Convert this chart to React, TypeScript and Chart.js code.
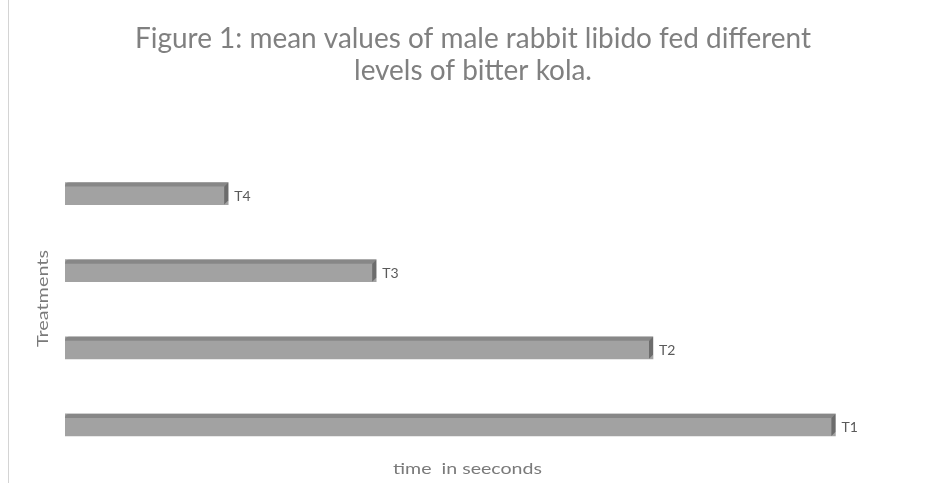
import React, { useEffect, useRef } from "react";
import { Chart, registerables } from "chart.js";

Chart.register(...registerables);

const categories = ["T1", "T2", "T3", "T4"];
const values = [96.3, 73.5, 38.9, 20.4];
const titleLines = [
  "Figure 1: mean values of male rabbit libido fed different",
  "levels of bitter kola.",
];
const xTitle = "time  in seeconds";
const yTitle = "Treatments";

const FONT = "Lato, 'Open Sans', sans-serif";

function drawFitted(
  ctx: CanvasRenderingContext2D,
  text: string,
  cx: number,
  cy: number,
  size: number,
  sx: number,
  color: string
) {
  ctx.save();
  ctx.font = `${size}px ${FONT}`;
  ctx.fillStyle = color;
  ctx.textAlign = "center";
  ctx.textBaseline = "alphabetic";
  ctx.translate(cx, cy);
  ctx.scale(sx, 1);
  ctx.fillText(text, 0, 0);
  ctx.restore();
}

const decorPlugin = {
  id: "decor",
  afterDatasetsDraw(chart: any) {
    const ctx: CanvasRenderingContext2D = chart.ctx;
    const meta = chart.getDatasetMeta(0);
    const d = 4;
    meta.data.forEach((el: any, i: number) => {
      const { x, y, base, height } = el.getProps(["x", "y", "base", "height"], true);
      const top = y - height / 2;
      const bottom = y + height / 2;
      ctx.save();
      // top face
      ctx.fillStyle = "#878787";
      ctx.beginPath();
      ctx.moveTo(base, top + d);
      ctx.quadraticCurveTo(base, top, base + d, top);
      ctx.lineTo(x, top);
      ctx.lineTo(x - d, top + d);
      ctx.closePath();
      ctx.fill();
      // right face
      ctx.fillStyle = "#6c6c6c";
      ctx.beginPath();
      ctx.moveTo(x - d, top + d);
      ctx.lineTo(x, top);
      ctx.lineTo(x, bottom - d);
      ctx.lineTo(x - d, bottom);
      ctx.closePath();
      ctx.fill();
      // label
      ctx.font = `14px ${FONT}`;
      ctx.fillStyle = "#5a5a5a";
      ctx.textAlign = "left";
      ctx.textBaseline = "middle";
      ctx.fillText(categories[i], x + 6, y + 3);
      ctx.restore();
    });
  },
  afterDraw(chart: any) {
    const ctx: CanvasRenderingContext2D = chart.ctx;
    ctx.save();
    // left border line
    ctx.strokeStyle = "#d4d4d4";
    ctx.lineWidth = 1;
    ctx.beginPath();
    ctx.moveTo(8.5, 0);
    ctx.lineTo(8.5, chart.height);
    ctx.stroke();

    // main title
    const tSize = 28;
    ctx.font = `${tSize}px ${FONT}`;
    const w1 = ctx.measureText(titleLines[0]).width;
    const sx = 676 / w1;
    drawFitted(ctx, titleLines[0], 473, 48, tSize, sx, "#808080");
    drawFitted(ctx, titleLines[1], 473, 80, tSize, sx, "#808080");

    // x title
    const aSize = 15;
    ctx.font = `${aSize}px ${FONT}`;
    const wx = ctx.measureText(xTitle).width;
    drawFitted(ctx, xTitle, 467.5, 474, aSize, 149 / wx, "#7a7a7a");

    // y title
    const wy = ctx.measureText(yTitle).width;
    ctx.save();
    ctx.translate(48, 298.5);
    ctx.rotate(-Math.PI / 2);
    drawFitted(ctx, yTitle, 0, 0, aSize, 97 / wy, "#7a7a7a");
    ctx.restore();
    ctx.restore();
  },
};

export default function App() {
  const ref = useRef<HTMLCanvasElement | null>(null);
  useEffect(() => {
    document.body.style.margin = "0";
    const canvas = ref.current;
    if (!canvas) return;
    const chart = new Chart(canvas, {
      type: "bar",
      data: {
        labels: categories,
        datasets: [
          {
            data: values,
            backgroundColor: "#a2a2a2",
            borderWidth: 0,
            barThickness: 22,
          },
        ],
      },
      options: {
        indexAxis: "y",
        responsive: false,
        animation: false,
        layout: { padding: { left: 65, right: 61, top: 155, bottom: 19.5 } },
        scales: {
          x: { display: false, min: 0, max: 100 },
          y: { display: false, reverse: true },
        },
        plugins: {
          legend: { display: false },
          tooltip: { enabled: false },
          title: { display: false },
        },
      },
      plugins: [decorPlugin],
    });
    return () => chart.destroy();
  }, []);
  return (
    <div style={{ width: 926, height: 483, background: "#fff" }}>
      <canvas ref={ref} width={926} height={483} style={{ display: "block" }} />
    </div>
  );
}
